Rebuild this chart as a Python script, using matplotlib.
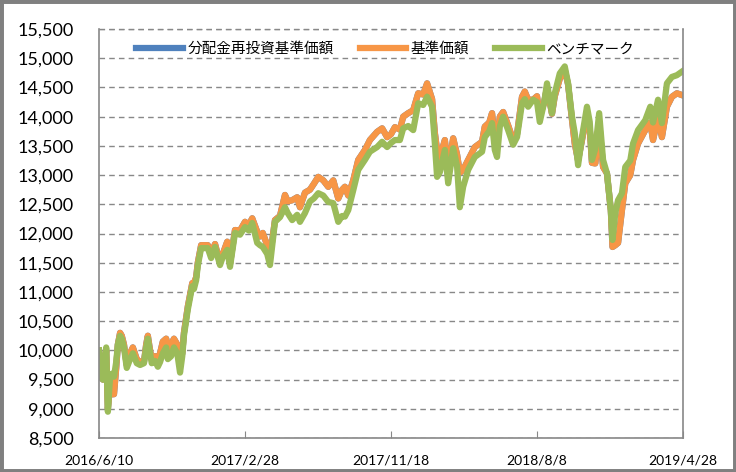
import datetime as dt
import matplotlib
matplotlib.use("Agg")
import matplotlib.pyplot as plt
from matplotlib.patches import Rectangle

plt.rcParams['font.family'] = ['Lato', 'Noto Sans CJK JP', 'DejaVu Sans']

# days since 2016/6/10
days = [0, 4, 7, 13, 16, 20, 23, 27, 31, 34, 38, 41, 45, 50, 56, 61, 68, 74, 81, 85,
        88, 92, 95, 101, 106, 110, 115, 121, 124, 130, 135, 141, 146, 150, 153, 157, 160, 164, 168, 171,
        175, 178, 184, 189, 196, 202, 209, 218, 223, 231, 236, 245, 254, 263, 270, 276, 285, 290, 295, 303,
        308, 317, 326, 335, 340, 348, 357, 362, 371, 380, 387, 395, 404, 413, 422, 431, 438, 443, 449, 458,
        467, 479, 488, 501, 510, 519, 526, 533, 542, 548, 557, 566, 575, 584, 591, 600, 605, 609, 614, 623,
        629, 638, 645, 650, 656, 665, 677, 690, 695, 703, 708, 713, 717, 722, 728, 737, 746, 753, 762, 767,
        773, 782, 789, 794, 802, 807, 816, 821, 830, 839, 845, 852, 857, 863, 870, 879, 884, 888, 894, 901,
        908, 915, 922, 925, 930, 935, 942, 948, 957, 962, 971, 984, 993, 998, 1007, 1014, 1023, 1032, 1041, 1050]

nav = [10000, 9600, 9500, 10000, 9000, 9400, 9250, 9250, 9700, 10100, 10300, 10250, 10100, 9750, 9950, 10050, 9850, 9800, 9800, 10100,
       10250, 10000, 9850, 9900, 9850, 9950, 10150, 10200, 10050, 10100, 10200, 10100, 9800, 9950, 10300, 10550, 10750, 10950, 11150, 11150,
       11250, 11500, 11800, 11800, 11800, 11650, 11820, 11500, 11650, 11860, 11480, 12060, 12050, 12200, 12150, 12260, 12030, 11950, 12010, 11800,
       11600, 12230, 12300, 12660, 12550, 12570, 12620, 12450, 12700, 12750, 12850, 12970, 12910, 12800, 12910, 12600, 12750, 12800, 12650, 12910,
       13260, 13430, 13600, 13740, 13800, 13650, 13700, 13820, 13780, 14000, 14060, 14110, 14400, 14380, 14570, 14300, 13720, 13430, 13300, 13600,
       13090, 13630, 13350, 13040, 13090, 13260, 13480, 13570, 13830, 13900, 14060, 13600, 13500, 14000, 14080, 13850, 13600, 13700, 14340, 14430,
       14290, 14290, 14350, 14000, 14250, 14500, 14050, 14350, 14650, 14800, 14550, 13950, 13540, 13250, 13600, 14050, 13800, 13210, 13200, 13900,
       13140, 13030, 12400, 11770, 11800, 11840, 12400, 12860, 13000, 13260, 13540, 13770, 13900, 13600, 14000, 13650, 14170, 14340, 14400, 14370]

nav_reinvested = list(nav)  # no distributions: same as nav

benchmark = [10000, 9550, 9500, 10050, 8950, 9550, 9600, 9550, 9800, 10100, 10250, 10200, 10050, 9700, 9850, 9950, 9780, 9750, 9780, 10050,
             10200, 9950, 9780, 9820, 9720, 9800, 9950, 10050, 9850, 9900, 10050, 9950, 9620, 9900, 10250, 10500, 10700, 10900, 11100, 11050,
             11200, 11450, 11750, 11750, 11750, 11580, 11770, 11460, 11600, 11720, 11430, 12010, 11980, 12110, 12050, 12180, 11840, 11800, 11770, 11650,
             11460, 12200, 12280, 12450, 12350, 12230, 12320, 12200, 12350, 12550, 12600, 12690, 12650, 12540, 12520, 12200, 12300, 12290, 12400, 12740,
             13090, 13260, 13400, 13480, 13570, 13480, 13550, 13600, 13600, 13800, 13840, 13770, 14230, 14200, 14340, 14170, 13540, 12970, 13050, 13430,
             12860, 13460, 13150, 12450, 12800, 13090, 13310, 13400, 13650, 13750, 13890, 13430, 13310, 13830, 14000, 13770, 13520, 13650, 14230, 14300,
             14170, 14290, 14250, 13910, 14250, 14570, 14060, 14400, 14740, 14860, 14570, 14000, 13720, 13170, 13650, 14170, 13910, 13260, 13450, 14060,
             13260, 13030, 12400, 11890, 12350, 12570, 12690, 13140, 13250, 13540, 13770, 13940, 14170, 13900, 14290, 13890, 14570, 14680, 14710, 14770]

labels = ['分配金再投資基準価額', '基準価額', 'ベンチマーク']
tick_dates = ['2016/6/10', '2017/2/28', '2017/11/18', '2018/8/8', '2019/4/28']

start = dt.date(2016, 6, 10)
dates = [start + dt.timedelta(days=d) for d in days]
ticks = [dt.datetime.strptime(s, '%Y/%m/%d').date() for s in tick_dates]

fig = plt.figure(figsize=(7.36, 4.72), dpi=100)
ax = fig.add_axes([0.1345, 0.072, 0.7935, 0.8665])

ax.plot(dates, nav_reinvested, color='#4F81BD', lw=4.5, label=labels[0], solid_joinstyle='round')
ax.plot(dates, nav, color='#F79646', lw=4.5, label=labels[1], solid_joinstyle='round')
ax.plot(dates, benchmark, color='#9BBB59', lw=4.5, label=labels[2], solid_joinstyle='round')

ax.set_ylim(8500, 15500)
ax.set_yticks(range(8500, 15501, 500))
ax.set_yticklabels([f'{v:,}' for v in range(8500, 15501, 500)], fontsize=13)
ax.set_xlim(ticks[0], ticks[-1])
ax.set_xticks(ticks)
ax.set_xticklabels(tick_dates, fontsize=10)

ax.grid(axis='y', color='#888888', linestyle=(0, (4, 3)), lw=1)
ax.set_axisbelow(True)
ax.tick_params(axis='y', length=0, pad=18)
ax.tick_params(axis='x', direction='in', length=5, color='#888888', pad=12)
for s in ['left', 'bottom', 'right']:
    ax.spines[s].set_color('#888888')
    ax.spines[s].set_linewidth(1.2)
ax.spines['top'].set_visible(False)
ax.axhline(15500, color='#888888', linestyle=(0, (4, 3)), lw=1, clip_on=False)

ax.legend(loc='upper center', bbox_to_anchor=(0.49, 1.0), ncol=3, frameon=False,
          prop={'family': ['Noto Sans CJK JP'], 'size': 10.5}, handlelength=3.2,
          columnspacing=1.8, handletextpad=0.3)

fig.add_artist(Rectangle((0, 0), 1, 1, transform=fig.transFigure, fill=False,
                         edgecolor='#808080', lw=5, clip_on=False))

fig.savefig('out.png', dpi=100)
